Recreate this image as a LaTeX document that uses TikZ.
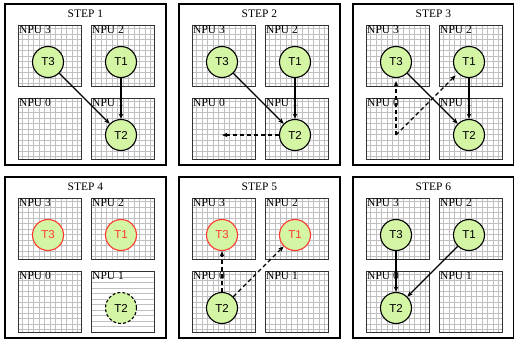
\documentclass[tikz,border=0pt]{standalone}
\usepackage{fontspec}
\setmainfont{Liberation Serif}
\newfontfamily\tfont{Liberation Sans}
\usepackage{tikz}
\usetikzlibrary{arrows.meta,calc}
\definecolor{tgreen}{HTML}{D4F5A4}
\definecolor{tred}{HTML}{FF3B30}
\definecolor{gridgray}{HTML}{C0C0C0}

\begin{document}
\begin{tikzpicture}[x=1pt, y=-1pt, >={Stealth[length=5.5pt,width=4.5pt]},
  every node/.style={font=\fontsize{11.5}{13}\selectfont},
  panel/.style={draw, line width=1.8pt, minimum width=161pt, minimum height=161pt, anchor=north west, inner sep=0pt},
  npu/.style={draw=black!80, line width=1.3pt, fill=white, minimum width=63pt, minimum height=61pt, anchor=north west, inner sep=0pt,
    path picture={\draw[gridgray, line width=0.8pt] (path picture bounding box.south west) grid[step=5.5pt] (path picture bounding box.north east);}},
  hlines/.style={path picture={\foreach \k in {5.5,11,...,60} \draw[gridgray, line width=0.8pt] ($(path picture bounding box.north west)+(0,\k)$) -- ++(63,0);}},
  npulbl/.style={anchor=north west, inner sep=1pt},
  task/.style={circle, draw, line width=1.1pt, fill=tgreen, minimum size=31pt, inner sep=0pt, font=\tfont\fontsize{11.5}{13}\selectfont},
  moved/.style={draw=tred, text=tred},
  ghost/.style={dashed, dash pattern=on 3pt off 2pt},
  flow/.style={->, line width=1.4pt},
  dflow/.style={->, line width=1.4pt, dash pattern=on 4pt off 3pt}]
\useasboundingbox (0,0) rectangle (514,343);

% panels and NPU boxes
\foreach \s/\x/\y in {1/4/3, 2/178/3, 3/352/3, 4/4/176, 5/178/176, 6/352/176} {
  \node[panel] (s\s) at (\x,\y) {};
  \node at ($(s\s.north)+(0,11)$) {STEP \s};
  \foreach \n/\dx/\dy in {3/14/22, 2/87/22, 0/14/95, 1/87/95} {
    \node[npu] (n\s-\n) at ($(s\s.north west)+(\dx,\dy)$) {};
    \node[npulbl] at (n\s-\n.north west) {NPU \n};
    \coordinate (c\s-\n) at ($(n\s-\n.north west)+(30,37)$);
  }
}
\node[npu,hlines] (n4-1) at (n4-1.north west) {};
\node[npulbl] at (n4-1.north west) {NPU 1};

% step 1
\node[task] (t1-3) at (c1-3) {T3};
\node[task] (t1-1) at (c1-2) {T1};
\node[task] (t1-2) at (c1-1) {T2};
\draw[flow] (t1-3) -- (t1-2);
\draw[flow] (t1-1) -- (t1-2);

% step 2
\node[task] (t2-3) at (c2-3) {T3};
\node[task] (t2-1) at (c2-2) {T1};
\node[task] (t2-2) at (c2-1) {T2};
\draw[flow] (t2-3) -- (t2-2);
\draw[flow] (t2-1) -- (t2-2);
\draw[dflow] (t2-2) -- (c2-0);

% step 3
\node[task] (t3-3) at (c3-3) {T3};
\node[task] (t3-1) at (c3-2) {T1};
\node[task] (t3-2) at (c3-1) {T2};
\draw[flow] (t3-3) -- (t3-2);
\draw[flow] (t3-1) -- (t3-2);
\draw[dflow, shorten >=3pt] (c3-0) -- (t3-3);
\draw[dflow, shorten >=3pt] (c3-0) -- (t3-1);

% step 4
\node[task,moved] (t4-3) at (c4-3) {T3};
\node[task,moved] (t4-1) at (c4-2) {T1};
\node[task,ghost] (t4-2) at (c4-1) {T2};

% step 5
\node[task,moved] (t5-3) at (c5-3) {T3};
\node[task,moved] (t5-1) at (c5-2) {T1};
\node[task] (t5-2) at (c5-0) {T2};
\draw[dflow] (t5-2) -- (t5-3);
\draw[dflow] (t5-2) -- (t5-1);

% step 6
\node[task] (t6-3) at (c6-3) {T3};
\node[task] (t6-1) at (c6-2) {T1};
\node[task] (t6-2) at (c6-0) {T2};
\draw[flow] (t6-3) -- (t6-2);
\draw[flow] (t6-1) -- (t6-2);
\end{tikzpicture}
\end{document}
